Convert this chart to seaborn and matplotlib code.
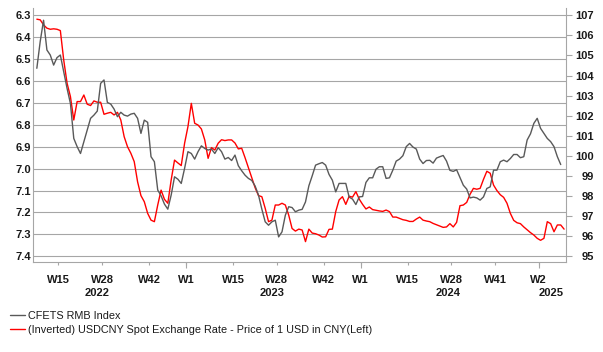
import numpy as np
import pandas as pd
import matplotlib
matplotlib.use("Agg")
import matplotlib.pyplot as plt
import matplotlib.dates as mdates
import matplotlib.transforms as mtransforms
import seaborn as sns

# weekly series, first week 2022-02-25
start_date = "2022-02-25"

# USDCNY spot (left axis, inverted)
usdcny = [6.318, 6.321, 6.344, 6.359, 6.364, 6.362, 6.364, 6.370, 6.504, 6.61,
          6.671, 6.778, 6.694, 6.694, 6.664, 6.706, 6.712, 6.691, 6.697, 6.697,
          6.752, 6.747, 6.743, 6.755, 6.743, 6.778, 6.854, 6.90, 6.93, 6.968,
          7.06, 7.123, 7.151, 7.204, 7.235, 7.242, 7.166, 7.098, 7.14, 7.158,
          7.052, 6.961, 6.974, 6.986, 6.884, 6.808, 6.702, 6.793, 6.801, 6.819,
          6.869, 6.953, 6.904, 6.915, 6.884, 6.868, 6.872, 6.869, 6.869, 6.883,
          6.910, 6.907, 6.95, 6.996, 7.041, 7.087, 7.123, 7.128, 7.181, 7.242,
          7.235, 7.166, 7.166, 7.158, 7.166, 7.212, 7.273, 7.285, 7.276, 7.28,
          7.333, 7.276, 7.294, 7.297, 7.303, 7.312, 7.311, 7.277, 7.276, 7.196,
          7.143, 7.128, 7.163, 7.126, 7.13, 7.105, 7.139, 7.163, 7.184, 7.175,
          7.187, 7.19, 7.193, 7.195, 7.189, 7.196, 7.221, 7.221, 7.227, 7.233,
          7.236, 7.241, 7.241, 7.23, 7.221, 7.235, 7.239, 7.242, 7.25, 7.256,
          7.262, 7.268, 7.266, 7.251, 7.266, 7.245, 7.169, 7.166, 7.154, 7.117,
          7.09, 7.094, 7.09, 7.049, 7.012, 7.021, 7.075, 7.10, 7.119, 7.131,
          7.158, 7.204, 7.236, 7.247, 7.251, 7.266, 7.279, 7.292, 7.303, 7.318,
          7.327, 7.318, 7.242, 7.251, 7.288, 7.257, 7.257, 7.276]

# CFETS RMB index (right axis), last week not yet published
cfets = [104.36, 105.69, 106.75, 105.27, 105.02, 104.52, 104.89, 105.02, 104.19, 103.36,
         102.61, 100.87, 100.46, 100.12, 100.70, 101.29, 101.87, 102.03, 102.23, 103.61,
         103.78, 102.66, 102.58, 102.33, 101.95, 102.17, 102.03, 101.98, 102.08, 102.12,
         101.87, 101.12, 101.78, 101.67, 99.96, 99.71, 98.30, 98.01, 97.6, 97.35,
         98.05, 98.96, 98.84, 98.63, 99.38, 100.21, 100.12, 99.84, 100.21, 100.50,
         100.37, 100.29, 100.34, 100.12, 100.41, 100.21, 99.84, 99.92, 99.77, 100.04,
         99.51, 99.26, 99.04, 98.88, 98.78, 98.50, 98.05, 97.35, 96.72, 96.55,
         96.72, 96.80, 95.97, 96.22, 97.05, 97.47, 97.43, 97.22, 97.30, 97.34,
         97.71, 98.51, 99.01, 99.54, 99.61, 99.67, 99.54, 99.08, 98.79, 98.21,
         98.63, 98.63, 98.63, 97.95, 97.85, 97.58, 97.96, 97.98, 98.68, 98.91,
         98.91, 99.34, 99.46, 99.46, 98.88, 98.91, 99.29, 99.74, 99.84, 100.01,
         100.46, 100.62, 100.44, 100.34, 99.84, 99.62, 99.77, 99.78, 99.64, 99.89,
         99.96, 100.02, 99.74, 99.28, 99.23, 99.31, 98.93, 98.54, 98.35, 97.91,
         97.95, 97.91, 97.80, 97.96, 98.38, 98.46, 99.29, 99.29, 99.71, 99.79,
         99.71, 99.87, 100.07, 100.07, 99.91, 99.96, 100.79, 101.10, 101.62, 101.87,
         101.37, 101.12, 100.87, 100.71, 100.46, 99.96, 99.57, np.nan]

week_ticks = ["2022-04-11", "2022-07-11", "2022-10-17", "2023-01-02", "2023-04-10",
              "2023-07-10", "2023-10-16", "2024-01-01", "2024-04-08", "2024-07-08",
              "2024-10-07", "2025-01-06"]
week_labels = ["W15", "W28", "W42", "W1", "W15", "W28", "W42", "W1", "W15", "W28",
               "W41", "W2"]
year_starts = ["2023-01-02", "2024-01-01", "2025-01-06"]
year_labels = ["2022", "2023", "2024", "2025"]
year_pos = ["2022-07-01", "2023-07-01", "2024-07-01", "2025-02-01"]

left_ticks = [6.3, 6.4, 6.5, 6.6, 6.7, 6.8, 6.9, 7.0, 7.1, 7.2, 7.3, 7.4]
right_ticks = [95, 96, 97, 98, 99, 100, 101, 102, 103, 104, 105, 106, 107]

name_cfets = "CFETS RMB Index"
name_usd = "(Inverted) USDCNY Spot Exchange Rate - Price of 1 USD in CNY(Left)"

dates = pd.date_range(start_date, periods=len(usdcny), freq="7D")
df = pd.DataFrame({"date": dates, "usdcny": usdcny, "cfets": cfets})

sns.set_style("white")
plt.rcParams["font.family"] = ["Liberation Sans", "DejaVu Sans"]

grid_col = "#A6A6A6"
red = "#FF0000"
dark = "#595959"
txt = "#1A1A1A"

fig = plt.figure(figsize=(6.03, 3.52), dpi=100)
ax = fig.add_axes([33 / 603, 1 - 262 / 352, 533 / 603, 254 / 352])
ax2 = ax.twinx()

sns.lineplot(data=df, x="date", y="usdcny", ax=ax, color=red, lw=1.0, legend=False)
sns.lineplot(data=df, x="date", y="cfets", ax=ax2, color=dark, lw=1.0, legend=False)

# left axis (inverted)
ax.set_ylim(7.426, 6.267)
ax.set_yticks(left_ticks)
ax.set_yticklabels([f"{v:.1f}" for v in left_ticks], fontsize=8, fontweight="bold")
ax.tick_params(axis="y", left=False, length=0, pad=1.5, labelcolor=txt)
ax.yaxis.grid(True, color=grid_col, lw=0.8)
ax.xaxis.grid(False)
ax.set_axisbelow(True)
ax.set_xlabel("")
ax.set_ylabel("")

# right axis
ax2.set_ylim(94.72, 107.36)
ax2.set_yticks(right_ticks)
ax2.set_yticklabels([str(v) for v in right_ticks], fontsize=8, fontweight="bold", ha="right")
ax2.tick_params(axis="y", right=True, length=4, width=0.8, color=grid_col,
                direction="out", pad=16, labelcolor=txt)
ax2.grid(False)
ax2.set_ylabel("")

# x axis
ax.set_xlim(pd.Timestamp("2022-02-17"), pd.Timestamp("2025-03-04"))
ax.set_xticks(pd.to_datetime(week_ticks))
ax.set_xticklabels(week_labels, fontsize=8, fontweight="bold")
ax.set_xticks(pd.to_datetime(year_starts), minor=True)
ax.xaxis.remove_overlapping_locs = False
ax.tick_params(axis="x", which="major", bottom=True, length=2.2, width=0.8,
               color=grid_col, pad=7, labelcolor=txt)
ax.tick_params(axis="x", which="minor", bottom=True, length=4, width=0.8, color=grid_col)

trans = mtransforms.blended_transform_factory(ax.transData, ax.transAxes)
for lab, d in zip(year_labels, year_pos):
    ax.text(mdates.date2num(pd.Timestamp(d)), -0.122, lab, transform=trans,
            ha="center", va="center", fontsize=8, fontweight="bold", color=txt)

for a in (ax, ax2):
    for s in a.spines.values():
        s.set_color(grid_col)
        s.set_linewidth(0.8)
    a.spines["top"].set_visible(False)
ax.spines["right"].set_visible(False)
ax2.spines["left"].set_visible(False)
ax2.spines["bottom"].set_visible(False)

h_usd = ax.get_lines()[0]
h_cf = ax2.get_lines()[0]
leg = fig.legend([h_cf, h_usd], [name_cfets, name_usd], loc="upper left",
                 bbox_to_anchor=(10 / 603, 1 - 311 / 352), frameon=False, fontsize=7.85,
                 handlelength=1.37, handletextpad=0.3, labelspacing=0.33,
                 borderpad=0, borderaxespad=0)
for t in leg.get_texts():
    t.set_color(txt)

plt.savefig("out.png", dpi=100)
